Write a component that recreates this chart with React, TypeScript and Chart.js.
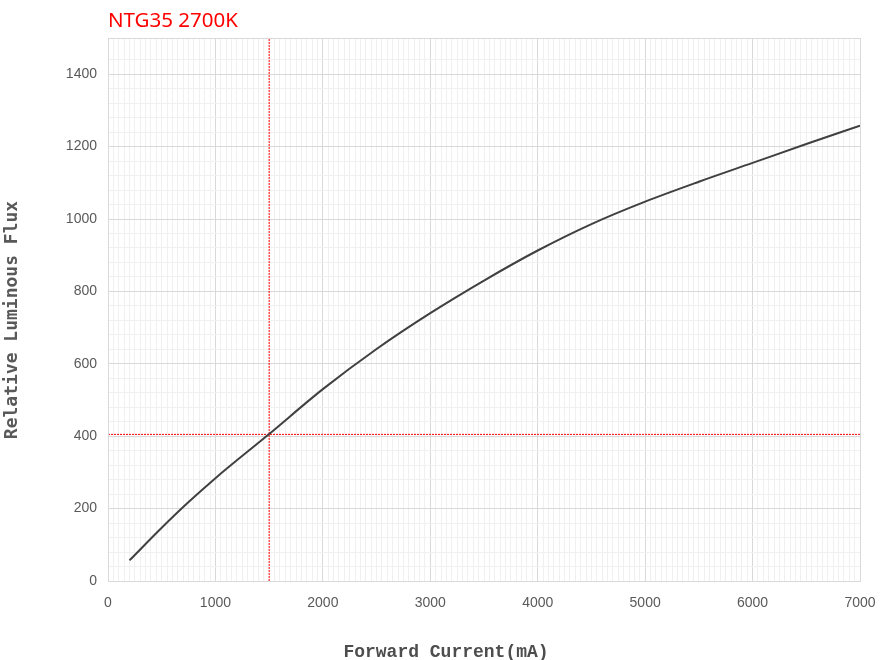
import React, { useEffect, useRef } from "react";
import { Chart, registerables } from "chart.js";

Chart.register(...registerables);

const currentMA = [200, 500, 750, 1000, 1500, 2000, 2500, 3000, 3500, 4000, 4500, 5000, 5500, 6000, 6500, 7000];
const relativeFlux = [57, 147, 218, 284, 406, 530, 641, 740, 830, 913, 986, 1048, 1103, 1155, 1207, 1258];

const markerCurrent = 1500;
const markerFlux = 405;

const xMin = 0;
const xMax = 7000;
const yMin = 0;
const yMax = 1500;

const chartTitle = "NTG35 2700K";
const xTitle = "Forward Current(mA)";
const yTitle = "Relative Luminous Flux";

const MAJOR = "#d9d9d9";
const MINOR = "#f0f0f0";

const textPlugin = {
  id: "textPlugin",
  afterDraw(chart: any) {
    const { ctx, chartArea } = chart;
    ctx.save();
    ctx.strokeStyle = MAJOR;
    ctx.lineWidth = 1;
    ctx.strokeRect(Math.round(chartArea.left) + 0.5, Math.round(chartArea.top) + 0.5, Math.round(chartArea.right - chartArea.left), Math.round(chartArea.bottom - chartArea.top));
    ctx.fillStyle = "#ff0000";
    ctx.font = "20.5px 'Noto Sans', sans-serif";
    ctx.textAlign = "left";
    ctx.textBaseline = "middle";
    ctx.fillText(chartTitle, 108, 21);
    ctx.fillStyle = "#4d4d4d";
    ctx.font = "bold 18px 'Liberation Mono', monospace";
    ctx.textAlign = "center";
    ctx.fillText(xTitle, 446, 652);
    ctx.translate(12, 320);
    ctx.rotate(-Math.PI / 2);
    ctx.font = "bold 18px 'DejaVu Sans Mono', monospace";
    ctx.fillStyle = "#595959";
    ctx.fillText(yTitle, 0, 0);
    ctx.restore();
  },
};

export default function App() {
  const ref = useRef<HTMLCanvasElement | null>(null);
  useEffect(() => {
    if (!ref.current) return;
    const curve = currentMA.map((x, i) => ({ x, y: relativeFlux[i] }));
    const chart = new Chart(ref.current, {
      type: "line",
      data: {
        datasets: [
          {
            data: curve,
            borderColor: "#404040",
            borderWidth: 2,
            pointRadius: 0,
            cubicInterpolationMode: "monotone",
            fill: false,
          },
          {
            data: [
              { x: markerCurrent, y: yMin },
              { x: markerCurrent, y: yMax },
            ],
            borderColor: "#ff0000",
            borderWidth: 1,
            borderDash: [2, 1],
            pointRadius: 0,
            fill: false,
          },
          {
            data: [
              { x: xMin, y: markerFlux },
              { x: xMax, y: markerFlux },
            ],
            borderColor: "#ff0000",
            borderWidth: 1,
            borderDash: [2, 1],
            pointRadius: 0,
            fill: false,
          },
        ],
      },
      options: {
        animation: false,
        responsive: false,
        maintainAspectRatio: false,
        layout: { padding: { left: 0, right: 30, top: 38, bottom: 0 } },
        plugins: { legend: { display: false }, tooltip: { enabled: false }, title: { display: false } },
        scales: {
          x: {
            type: "linear",
            min: xMin,
            max: xMax,
            afterFit: (s: any) => {
              s.height = 79;
            },
            border: { display: true, color: MAJOR },
            grid: {
              drawTicks: false,
              color: (c: any) => (c.tick && c.tick.value % 1000 === 0 ? MAJOR : MINOR),
              lineWidth: 1,
            },
            ticks: {
              stepSize: 50,
              autoSkip: false,
              maxRotation: 0,
              padding: 14,
              color: "#595959",
              font: { family: "'Liberation Sans', sans-serif", size: 14 },
              callback: (v: any) => (Number(v) % 1000 === 0 ? String(v) : ""),
            },
          },
          y: {
            type: "linear",
            min: yMin,
            max: yMax,
            afterFit: (s: any) => {
              s.width = 108;
            },
            border: { display: true, color: MAJOR },
            grid: {
              drawTicks: false,
              color: (c: any) => (c.tick && (c.tick.value % 200 === 0 || c.tick.value === yMax) ? MAJOR : MINOR),
              lineWidth: 1,
            },
            ticks: {
              stepSize: 40,
              autoSkip: false,
              padding: 11,
              color: "#595959",
              font: { family: "'Liberation Sans', sans-serif", size: 14 },
              callback: (v: any) => (Number(v) % 200 === 0 ? String(v) : ""),
            },
          },
        },
      },
      plugins: [textPlugin],
    } as any);
    return () => chart.destroy();
  }, []);
  return (
    <div style={{ position: "fixed", left: 0, top: 0, width: 890, height: 660, background: "#fff" }}>
      <canvas ref={ref} width={890} height={660} style={{ width: 890, height: 660 }} />
    </div>
  );
}
